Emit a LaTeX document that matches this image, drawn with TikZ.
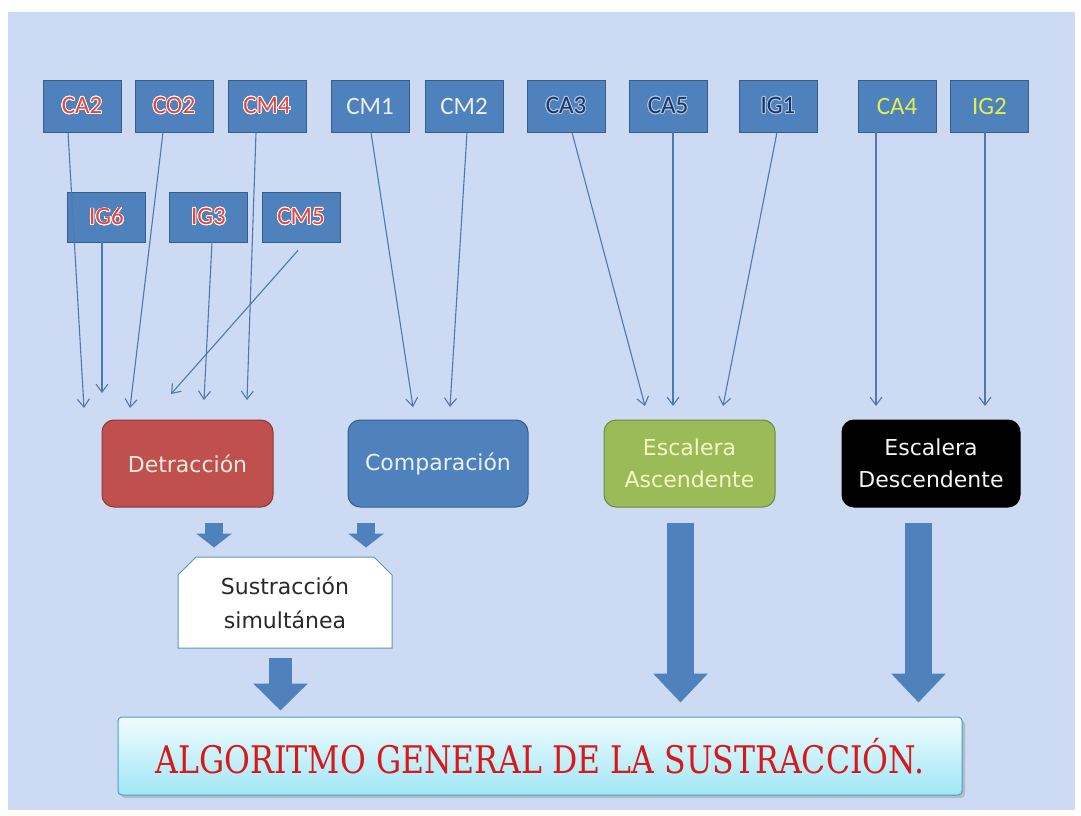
\documentclass[tikz,border=0pt]{standalone}
\usepackage{fontspec}
\usepackage{contour}
\usetikzlibrary{arrows.meta,shapes.misc,shadows}
\newfontfamily\boxfont{Carlito}
\newfontfamily\midfont{DejaVu Sans}
\newfontfamily\titlefont{DejaVu Serif}
\definecolor{bgblue}{RGB}{204,219,243}
\definecolor{boxblue}{RGB}{79,129,189}
\definecolor{boxedge}{RGB}{56,93,138}
\definecolor{redtxt}{RGB}{225,70,62}
\definecolor{navytxt}{RGB}{28,52,98}
\definecolor{limetxt}{RGB}{225,240,80}
\definecolor{detred}{RGB}{192,80,77}
\definecolor{detedge}{RGB}{140,56,54}
\definecolor{eagreen}{RGB}{155,187,89}
\definecolor{eaedge}{RGB}{113,137,63}
\definecolor{bordteal}{RGB}{75,160,190}
\definecolor{titlered}{RGB}{215,25,25}
\contourlength{0.9pt}
\newcommand{\redlab}[1]{\contour{white!85!pink}{#1}}
\newcommand{\navylab}[1]{\contour{boxblue!45!white}{#1}}
\begin{document}
\begin{tikzpicture}[x=1pt,y=-1pt,
  topbox/.style={draw=boxedge, line width=0.8pt, fill=boxblue, minimum width=78pt, minimum height=52pt, inner sep=0pt, font=\boxfont\fontsize{25}{28}\selectfont},
  lowbox/.style={topbox, minimum height=50pt},
  redt/.style={text=redtxt},
  navyt/.style={text=navytxt},
  whitet/.style={text={rgb,255:red,235;green,242;blue,250}},
  limet/.style={text=limetxt},
  midbox/.style={rounded corners=12pt, line width=1pt, minimum height=87pt, inner sep=0pt, align=center, font=\midfont\fontsize{22}{32}\selectfont},
  thin/.style={draw={rgb,255:red,78;green,120;blue,180}, line width=1.1pt, -{Straight Barb[length=8pt,width=12pt]}},
  blksmall/.style={draw=boxblue, line width=18pt, -{Triangle[length=14pt,width=35pt]}},
  blkbig/.style={draw=boxblue, line width=27pt, -{Triangle[length=29pt,width=53pt]}},
  blkmid/.style={draw=boxblue, line width=23pt, -{Triangle[length=27pt,width=53pt]}}
]
\useasboundingbox (0,0) rectangle (1081,816);
\fill[white] (0,0) rectangle (1081,816);
\fill[bgblue] (8,12) rectangle (1075,810);

% top row
\node[topbox, redt] (CA2) at (82,106) {\redlab{CA2}};
\node[topbox, redt] (CO2) at (174,106) {\redlab{CO2}};
\node[topbox, redt] (CM4) at (267,106) {\redlab{CM4}};
\node[topbox, whitet] (CM1) at (370,106) {CM1};
\node[topbox, whitet] (CM2) at (464,106) {CM2};
\node[topbox, navyt] (CA3) at (566,106) {\navylab{CA3}};
\node[topbox, navyt] (CA5) at (668,106) {\navylab{CA5}};
\node[topbox, navyt] (IG1) at (778,106) {\navylab{IG1}};
\node[topbox, limet] (CA4) at (897,106) {CA4};
\node[topbox, limet] (IG2) at (989.5,106) {IG2};

% second row
\node[lowbox, redt] (IG6) at (106.5,217) {\redlab{IG6}};
\node[lowbox, redt] (IG3) at (208.5,217) {\redlab{IG3}};
\node[lowbox, redt] (CM5) at (301,217) {\redlab{CM5}};

% middle boxes
\node[midbox, draw=detedge, fill=detred, minimum width=171pt, text={rgb,255:red,250;green,235;blue,225}] (det) at (187.5,463.5) {Detracción};
\node[midbox, draw=boxedge, fill=boxblue, minimum width=180pt, text={rgb,255:red,235;green,242;blue,250}] (comp) at (438,463.5) {Comparación};
\node[midbox, draw=eaedge, fill=eagreen, minimum width=171pt, text={rgb,255:red,245;green,250;blue,195}] (esA) at (689.5,463.5) {Escalera\\Ascendente};
\node[midbox, draw=black, fill=black, minimum width=178pt, text={rgb,255:red,245;green,245;blue,245}] (esD) at (931,463.5) {Escalera\\Descendente};

% sustraccion simultanea
\node[chamfered rectangle, chamfered rectangle corners={north west,north east}, chamfered rectangle xsep=9pt, chamfered rectangle ysep=9pt,
  draw=bordteal!80!gray, line width=1pt, fill=white, minimum width=214pt, minimum height=91pt, inner sep=0pt, align=center,
  text={rgb,255:red,40;green,40;blue,40}, font=\midfont\fontsize{22}{34}\selectfont] (sus) at (285,602.5) {Sustracción\\simultánea};

% bottom box
\node[draw=bordteal, line width=1pt, rounded corners=4pt, top color={rgb,255:red,240;green,252;blue,255}, bottom color={rgb,255:red,160;green,230;blue,245},
  minimum width=844pt, minimum height=78pt, inner sep=0pt, text=titlered,
  drop shadow={shadow xshift=3pt, shadow yshift=-3pt, opacity=0.35}] (bot) at (540,756)
  {\scalebox{0.83}[1]{\titlefont\fontsize{38}{40}\selectfont ALGORITMO GENERAL DE LA SUSTRACCIÓN.}};

% arrow tip coordinates
\coordinate (tCA2) at (84,408);
\coordinate (tIG6) at (102,393);
\coordinate (tCO2) at (130,408);
\coordinate (tCM5) at (171,394);
\coordinate (tIG3) at (204,400);
\coordinate (tCM4) at (247,400);
\coordinate (tCM1) at (413,407);
\coordinate (tCM2) at (450,407);
\coordinate (tCA3) at (645,406);
\coordinate (tCA5) at (673,406);
\coordinate (tIG1) at (723,406);
\coordinate (tCA4) at (876,406);
\coordinate (tIG2) at (985,406);

% thin arrows
\draw[thin] ([xshift=-14pt]CA2.south) -- (tCA2);
\draw[thin] ([xshift=-4.5pt]IG6.south) -- (tIG6);
\draw[thin] ([xshift=-11pt]CO2.south) -- (tCO2);
\draw[thin] ([xshift=-3pt,yshift=-8pt]CM5.south) -- (tCM5);
\draw[thin] ([xshift=3.5pt]IG3.south) -- (tIG3);
\draw[thin] ([xshift=-11pt]CM4.south) -- (tCM4);
\draw[thin] ([xshift=1pt]CM1.south) -- (tCM1);
\draw[thin] ([xshift=3pt]CM2.south) -- (tCM2);
\draw[thin] ([xshift=6pt]CA3.south) -- (tCA3);
\draw[thin] ([xshift=5pt]CA5.south) -- (tCA5);
\draw[thin] ([xshift=-1pt]IG1.south) -- (tIG1);
\draw[thin] ([xshift=-21pt]CA4.south) -- (tCA4);
\draw[thin] ([xshift=-4.5pt]IG2.south) -- (tIG2);

% block arrows
\draw[blksmall] ([xshift=26.5pt,yshift=-15pt]det.south) -- ++(0,25);
\draw[blksmall] ([xshift=-72pt,yshift=-15pt]comp.south) -- ++(0,25);
\draw[blkmid] ([xshift=-4.5pt,yshift=-9pt]sus.south) -- ++(0,53);
\draw[blkbig] ([xshift=-9pt,yshift=-15pt]esA.south) -- ++(0,180);
\draw[blkbig] ([xshift=-12.5pt,yshift=-15pt]esD.south) -- ++(0,180);
\end{tikzpicture}
\end{document}
